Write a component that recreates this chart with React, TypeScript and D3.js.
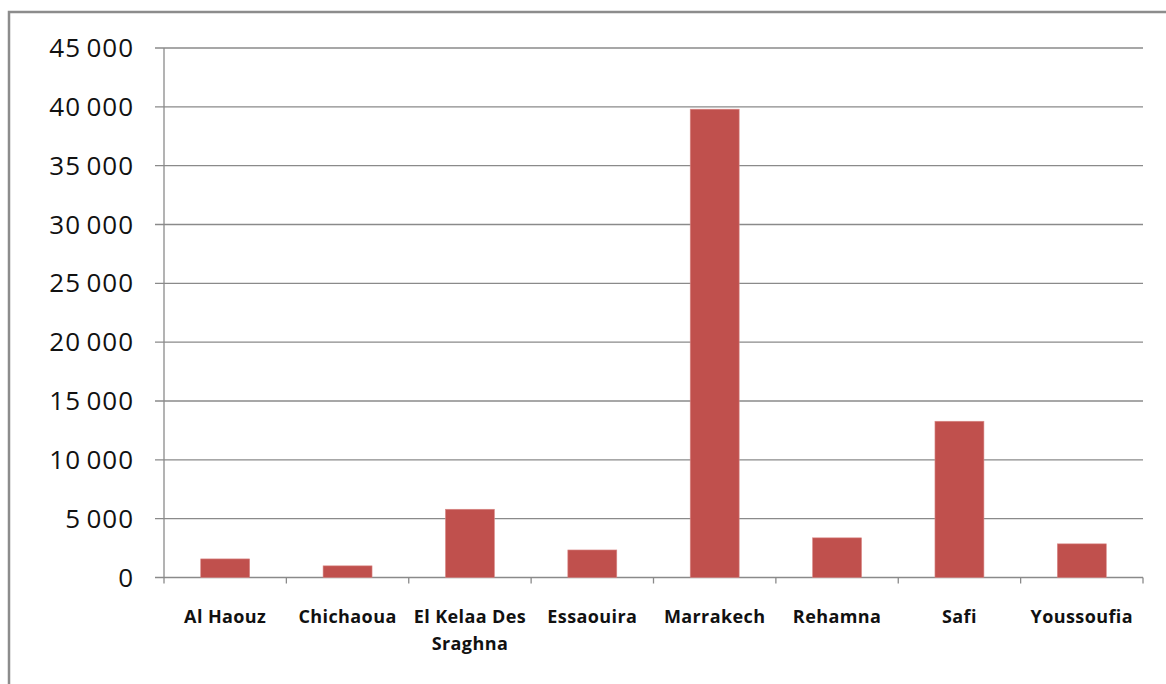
import React from "react";
import * as d3 from "d3";

// Provinces of the Marrakech-Safi region
const provinces = [
  ["Al Haouz"],
  ["Chichaoua"],
  ["El Kelaa Des", "Sraghna"],
  ["Essaouira"],
  ["Marrakech"],
  ["Rehamna"],
  ["Safi"],
  ["Youssoufia"],
];
const provinceKeys = provinces.map((p) => p.join(" "));
const values = [1580, 990, 5800, 2340, 39800, 3370, 13280, 2860];
const yTicks = [0, 5000, 10000, 15000, 20000, 25000, 30000, 35000, 40000, 45000];

const W = 1166;
const H = 684;
const M = { left: 164, right: 1143, top: 48, bottom: 577.5 };

// thousands grouped with a thin space
const fmt = (v: number) => d3.format(",")(v).replace(/,/g, "\u2009");

export default function App() {
  const x = d3
    .scaleBand<string>()
    .domain(provinceKeys)
    .range([M.left, M.right])
    .paddingInner(0.6)
    .paddingOuter(0.3);
  const band = (M.right - M.left) / provinceKeys.length;
  const y = d3.scaleLinear().domain([0, 45000]).range([M.bottom, M.top]);
  const grid = "#8a8a8a";
  const font = "'Open Sans', 'Liberation Sans', sans-serif";

  return (
    <svg
      width={W}
      height={H}
      style={{ position: "absolute", left: 0, top: 0, background: "#fff" }}
    >
      {/* chart frame */}
      <rect x={9} y={12} width={W} height={H} fill="none" stroke="#8c8c8c" strokeWidth={2.5} />

      {/* gridlines */}
      {yTicks.map((t) => (
        <line key={t} x1={M.left - 9} x2={M.right} y1={y(t)} y2={y(t)} stroke={grid} strokeWidth={1.3} />
      ))}
      {yTicks.map((t) => (
        <text
          key={"l" + t}
          x={134}
          y={y(t)}
          dy="0.35em"
          textAnchor="end"
          fontFamily={font}
          fontSize={26}
          letterSpacing={1}
          fill="#111"
        >
          {fmt(t)}
        </text>
      ))}

      {/* axes */}
      <line x1={M.left} x2={M.left} y1={M.top} y2={M.bottom} stroke={grid} strokeWidth={1.3} />
      {d3.range(provinceKeys.length + 1).map((i) => (
        <line
          key={"t" + i}
          x1={M.left + i * band}
          x2={M.left + i * band}
          y1={M.bottom}
          y2={M.bottom + 6}
          stroke={grid}
          strokeWidth={1.3}
        />
      ))}

      {/* bars */}
      {provinceKeys.map((k, i) => (
        <rect
          key={k}
          x={x(k)}
          y={y(values[i])}
          width={x.bandwidth()}
          height={M.bottom - y(values[i])}
          fill="#C0504D"
          stroke="#d98a88"
          strokeWidth={0.6}
        />
      ))}

      {/* category labels */}
      {provinces.map((lines, i) => {
        const cx = (x(provinceKeys[i]) as number) + x.bandwidth() / 2;
        return (
          <text
            key={"c" + i}
            x={cx}
            y={623}
            textAnchor="middle"
            fontFamily={font}
            fontSize={18}
            fontWeight="bold"
            letterSpacing={0.4}
            fill="#111"
          >
            {lines.map((ln, j) => (
              <tspan key={j} x={cx} dy={j === 0 ? 0 : 27}>
                {ln}
              </tspan>
            ))}
          </text>
        );
      })}
    </svg>
  );
}
